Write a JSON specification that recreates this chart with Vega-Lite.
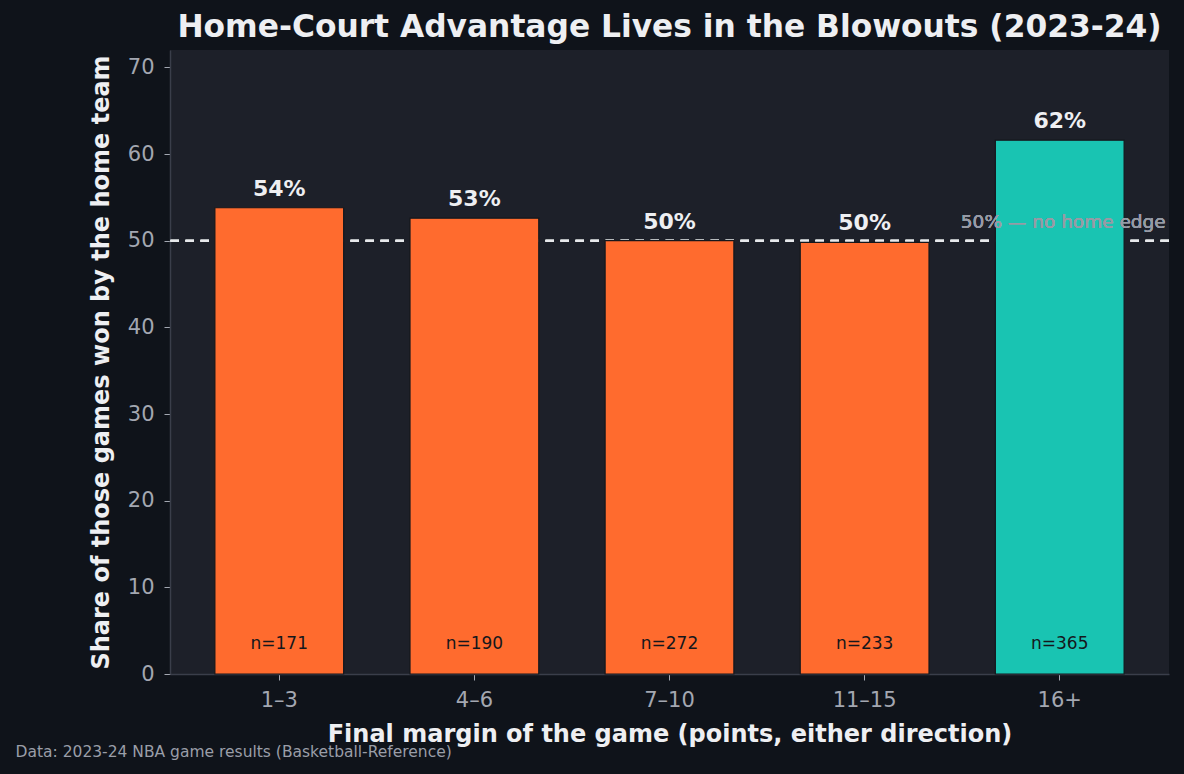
{
  "$schema": "https://vega.github.io/schema/vega-lite/v6.json",
  "width": 999,
  "height": 624,
  "autosize": {"type": "none"},
  "padding": {"left": 170, "top": 50, "right": 15, "bottom": 100},
  "background": "#0f131a",
  "config": {
    "font": "DejaVu Sans",
    "view": {"fill": "#1d2029", "stroke": null},
    "axis": {"labelFont": "DejaVu Sans", "titleFont": "DejaVu Sans"}
  },
  "title": {
    "text": "Home-Court Advantage Lives in the Blowouts (2023-24)",
    "fontSize": 31.3,
    "fontWeight": "bold",
    "color": "#eeeff2",
    "anchor": "middle",
    "frame": "group",
    "offset": 7
  },
  "data": {
    "values": [
      {"margin": "1–3", "share": 53.8, "label": "54%", "n": "n=171", "kind": "close"},
      {"margin": "4–6", "share": 52.6, "label": "53%", "n": "n=190", "kind": "close"},
      {"margin": "7–10", "share": 50.0, "label": "50%", "n": "n=272", "kind": "close"},
      {"margin": "11–15", "share": 49.8, "label": "50%", "n": "n=233", "kind": "close"},
      {"margin": "16+", "share": 61.6, "label": "62%", "n": "n=365", "kind": "blowout"}
    ]
  },
  "resolve": {"axis": {"x": "independent"}},
  "layer": [
    {
      "mark": {"type": "rule", "color": "#e8e9ec", "strokeDash": [8.5, 6.5], "strokeWidth": 2},
      "encoding": {"y": {"datum": 50, "type": "quantitative"}}
    },
    {
      "mark": {"type": "bar", "stroke": "#15171c", "strokeWidth": 1.2},
      "encoding": {
        "x": {
          "field": "margin",
          "type": "nominal",
          "sort": null,
          "scale": {"paddingInner": 0.34, "paddingOuter": 0.23},
          "axis": {
            "orient": "bottom",
            "title": "Final margin of the game (points, either direction)",
            "titleFontSize": 24,
            "titleFontWeight": "bold",
            "titleColor": "#eeeff2",
            "titlePadding": 12,
            "labelAngle": 0,
            "labelFontSize": 21,
            "labelColor": "#a3a7b1",
            "labelPadding": 9,
            "tickColor": "#a3a7b1",
            "tickSize": 6,
            "domainColor": "#3a3e4a",
            "domainWidth": 1.5,
            "grid": false
          }
        },
        "y": {
          "field": "share",
          "type": "quantitative",
          "scale": {"domain": [0, 72], "nice": false},
          "axis": {
            "title": "Share of those games won by the home team",
            "titleFontSize": 24,
            "titleFontWeight": "bold",
            "titleColor": "#eeeff2",
            "titlePadding": 14,
            "values": [0, 10, 20, 30, 40, 50, 60, 70],
            "labelFontSize": 21,
            "labelColor": "#a3a7b1",
            "labelPadding": 10,
            "tickColor": "#a3a7b1",
            "tickSize": 6,
            "domainColor": "#3a3e4a",
            "domainWidth": 1.5,
            "gridColor": "#2c303c",
            "gridWidth": 1.2
          }
        },
        "color": {
          "field": "kind",
          "type": "nominal",
          "scale": {"domain": ["close", "blowout"], "range": ["#ff6b2e", "#19c4b2"]},
          "legend": null
        }
      }
    },
    {
      "mark": {"type": "text", "baseline": "alphabetic", "dy": -12, "fontSize": 22, "fontWeight": "bold", "color": "#eeeff2"},
      "encoding": {
        "x": {"field": "margin", "type": "nominal", "sort": null, "axis": null},
        "y": {"field": "share", "type": "quantitative"},
        "text": {"field": "label"}
      }
    },
    {
      "mark": {"type": "text", "baseline": "middle", "fontSize": 17, "color": "#15171c"},
      "encoding": {
        "x": {"field": "margin", "type": "nominal", "sort": null, "axis": null},
        "y": {"datum": 3.5, "type": "quantitative"},
        "text": {"field": "n"}
      }
    },
    {
      "mark": {"type": "text", "baseline": "alphabetic", "align": "right", "dx": 106, "dy": -13, "fontSize": 18.5, "color": "#979ba5"},
      "encoding": {
        "x": {
          "datum": "16+",
          "type": "nominal",
          "axis": {
            "orient": "top",
            "title": "Data: 2023-24 NBA game results (Basketball-Reference)",
            "titleFontSize": 15.5,
            "titleFontWeight": "normal",
            "titleColor": "#9a9ea8",
            "titleAnchor": "start",
            "titleAlign": "left",
            "titleBaseline": "middle",
            "titleX": -155,
            "titleY": 701,
            "labels": false,
            "ticks": false,
            "domain": false,
            "grid": false
          }
        },
        "y": {"datum": 50, "type": "quantitative"},
        "text": {"value": "50% — no home edge"}
      }
    }
  ]
}
